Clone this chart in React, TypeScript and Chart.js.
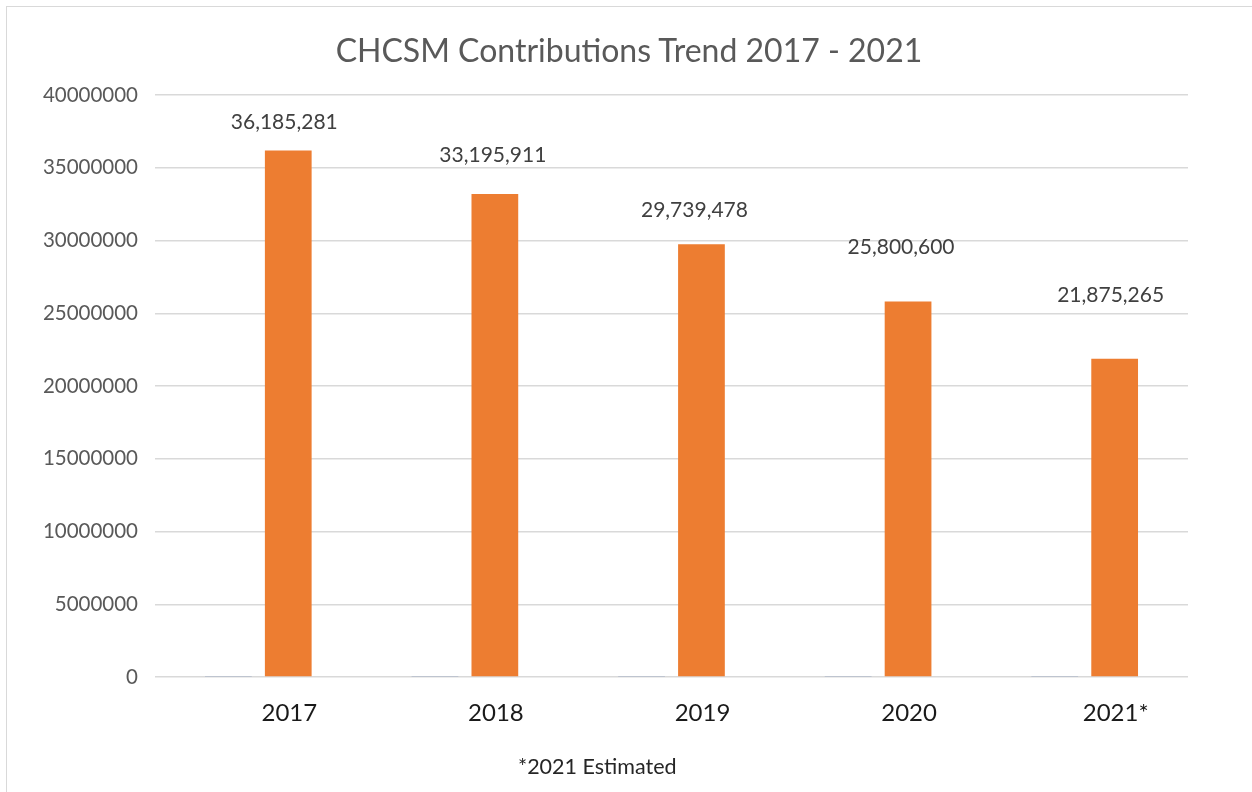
import React, { useEffect, useRef } from "react";
import { Chart, registerables } from "chart.js";

Chart.register(...registerables);

const categories = ["2017", "2018", "2019", "2020", "2021*"];
const yearSeries = [2017, 2018, 2019, 2020, 2021];
const contributions = [36185281, 33195911, 29739478, 25800600, 21875265];
const valueLabels = ["36,185,281", "33,195,911", "29,739,478", "25,800,600", "21,875,265"];
const yTickMax = 40000000;
const yTickStep = 5000000;
const titleText = "CHCSM Contributions Trend 2017 - 2021";
const footnoteText = "*2021 Estimated";

// pixel lift of each hand-placed data label above its bar top (style)
const labelLift = [28, 39, 34, 54, 63];
const labelShift = [-4, -2, -7, -7, -4];

const FONT = "Lato, 'Open Sans', sans-serif";

const valueLabelPlugin = {
  id: "valueLabels",
  afterDatasetsDraw(chart: any) {
    const meta = chart.getDatasetMeta(1);
    const ctx = chart.ctx;
    ctx.save();
    ctx.font = `21px ${FONT}`;
    ctx.fillStyle = "#404040";
    ctx.textAlign = "center";
    ctx.textBaseline = "middle";
    meta.data.forEach((bar: any, i: number) => {
      ctx.fillText(valueLabels[i], bar.x + labelShift[i], bar.y - labelLift[i]);
    });
    ctx.restore();
  },
};

export default function App() {
  const ref = useRef<HTMLCanvasElement>(null);
  useEffect(() => {
    if (!ref.current) return;
    const chart = new Chart(ref.current, {
      type: "bar",
      data: {
        labels: categories,
        datasets: [
          {
            label: "Year",
            data: yearSeries,
            backgroundColor: "#b4bccb",
            categoryPercentage: 0.58,
            barPercentage: 0.78,
          },
          {
            label: "Contributions",
            data: contributions,
            backgroundColor: "#ED7D31",
            categoryPercentage: 0.58,
            barPercentage: 0.78,
          },
        ],
      },
      options: {
        animation: false,
        responsive: false,
        maintainAspectRatio: false,
        layout: { padding: { left: 0, right: 64, top: 95, bottom: 0 } },
        plugins: {
          legend: { display: false },
          tooltip: { enabled: false },
          title: { display: false },
        },
        scales: {
          x: {
            grid: { display: false, drawTicks: false },
            border: { display: false },
            ticks: {
              color: "#1a1a1a",
              font: { family: FONT, size: 24 },
              padding: 22,
              labelOffset: 31,
            },
            afterFit: (s: any) => {
              s.height = 115;
            },
          },
          y: {
            min: 0,
            max: yTickMax,
            grid: { color: "#d9d9d9", drawTicks: false, lineWidth: 1.5 },
            border: { display: false },
            ticks: {
              stepSize: yTickStep,
              color: "#595959",
              font: { family: FONT, size: 20.5 },
              padding: 17,
              callback: (v: any) => String(v),
            },
            afterFit: (s: any) => {
              s.width = 155;
            },
          },
        },
      },
      plugins: [valueLabelPlugin],
    });
    return () => chart.destroy();
  }, []);

  return (
    <div
      style={{
        position: "fixed",
        left: 0,
        top: 0,
        width: 1252,
        height: 792,
        background: "#ffffff",
        overflow: "hidden",
      }}
    >
      <div
        style={{
          position: "absolute",
          left: 6,
          top: 6,
          width: 1300,
          height: 900,
          borderLeft: "1px solid #d9d9d9",
          borderTop: "1px solid #d9d9d9",
        }}
      />
      <canvas
        ref={ref}
        width={1252}
        height={792}
        style={{ position: "absolute", left: 0, top: 0, width: 1252, height: 792 }}
      />
      <div
        style={{
          position: "absolute",
          left: 329,
          top: 30,
          width: 600,
          textAlign: "center",
          fontFamily: FONT,
          fontSize: 32,
          color: "#595959",
          whiteSpace: "nowrap",
          lineHeight: "40px",
        }}
      >
        {titleText}
      </div>
      <div
        style={{
          position: "absolute",
          left: 518,
          top: 754,
          fontFamily: FONT,
          fontSize: 21.5,
          color: "#262626",
          whiteSpace: "nowrap",
          lineHeight: "24px",
        }}
      >
        {footnoteText}
      </div>
    </div>
  );
}
